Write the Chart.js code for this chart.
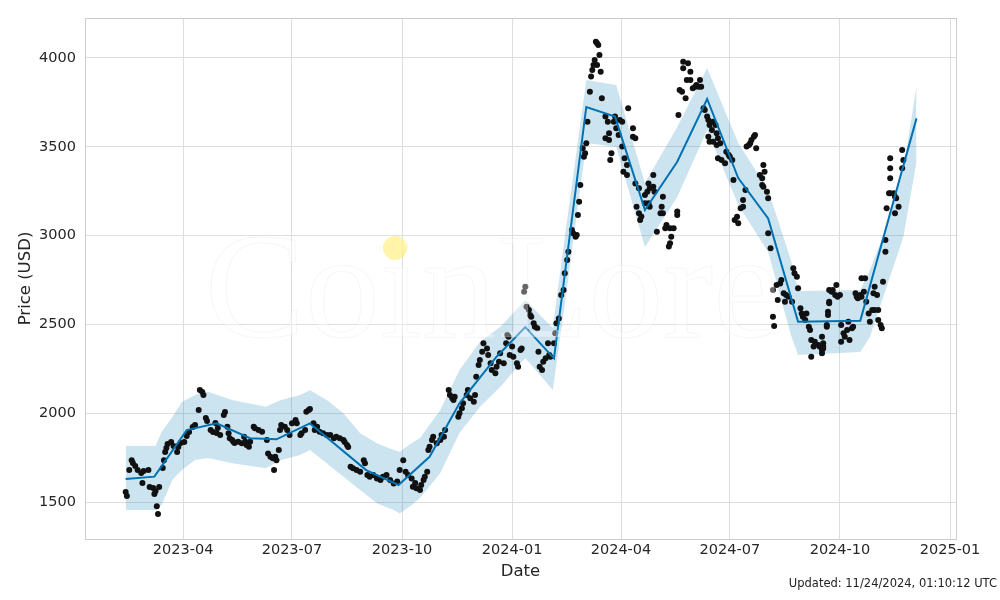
<!DOCTYPE html>
<html>
<head>
<meta charset="utf-8">
<script src="https://cdn.jsdelivr.net/npm/chart.js@4.4.1/dist/chart.umd.min.js"></script>
<style>
html,body{margin:0;padding:0;background:#fff;}
#wrap{width:1000px;height:600px;position:relative;}
canvas{display:block;}
</style>
</head>
<body>
<div id="wrap"><canvas id="c" width="1000" height="600"></canvas></div>
<script>
// ---- axis settings ----
const xRange = ['2023-01-09', '2025-01-06'];
const yRange = [1292, 4225];
const xTickLabels = ['2023-04','2023-07','2023-10','2024-01','2024-04','2024-07','2024-10','2025-01'];
const yTicks = [1500, 2000, 2500, 3000, 3500, 4000];

// ---- observed daily prices (black dots) ----
const priceDates = [
'2023-02-12','2023-02-13','2023-02-15','2023-02-17','2023-02-18','2023-02-20','2023-02-22','2023-02-25','2023-02-26','2023-02-27',
'2023-03-03','2023-03-04','2023-03-07','2023-03-08','2023-03-09','2023-03-10','2023-03-11','2023-03-12','2023-03-15','2023-03-16',
'2023-03-17','2023-03-18','2023-03-19','2023-03-22','2023-03-24','2023-03-27','2023-03-28','2023-03-30','2023-04-02','2023-04-04',
'2023-04-06','2023-04-09','2023-04-11','2023-04-14','2023-04-15','2023-04-17','2023-04-18','2023-04-20','2023-04-21','2023-04-24',
'2023-04-26','2023-04-29',
'2023-04-28','2023-04-30','2023-05-02','2023-05-05','2023-05-06','2023-05-08','2023-05-09','2023-05-10','2023-05-12','2023-05-13',
'2023-05-14','2023-05-17','2023-05-20','2023-05-22','2023-05-23','2023-05-24','2023-05-26','2023-05-27','2023-05-30','2023-05-31',
'2023-06-03','2023-06-06','2023-06-10','2023-06-11','2023-06-13','2023-06-15','2023-06-16','2023-06-17','2023-06-18','2023-06-20',
'2023-06-21','2023-06-22','2023-06-25','2023-06-27','2023-06-29','2023-07-01','2023-07-04','2023-07-05','2023-07-08','2023-07-09',
'2023-07-12','2023-07-13','2023-07-15',
'2023-07-16','2023-07-19','2023-07-20','2023-07-22','2023-07-24','2023-07-27','2023-07-30','2023-08-02','2023-08-05','2023-08-07',
'2023-08-10','2023-08-13','2023-08-14','2023-08-16','2023-08-17','2023-08-19','2023-08-21','2023-08-24','2023-08-27','2023-08-30',
'2023-08-31','2023-09-02','2023-09-04','2023-09-07','2023-09-10','2023-09-13','2023-09-15','2023-09-18','2023-09-21','2023-09-24',
'2023-09-27','2023-09-29','2023-10-02','2023-10-04','2023-10-06','2023-10-09','2023-10-10',
'2023-10-12','2023-10-13','2023-10-16','2023-10-17','2023-10-19','2023-10-20','2023-10-22','2023-10-23','2023-10-24','2023-10-26',
'2023-10-27','2023-10-30','2023-11-02','2023-11-03','2023-11-05','2023-11-06','2023-11-09','2023-11-10','2023-11-12','2023-11-13',
'2023-11-14','2023-11-17','2023-11-18','2023-11-20','2023-11-21','2023-11-24','2023-11-25','2023-11-27','2023-11-30','2023-12-01',
'2023-12-02','2023-12-04','2023-12-05','2023-12-07','2023-12-08','2023-12-11','2023-12-12','2023-12-14','2023-12-15','2023-12-18',
'2023-12-19','2023-12-21','2023-12-22','2023-12-25','2023-12-27','2023-12-28','2023-12-29','2023-12-30','2024-01-01',
'2024-01-02','2024-01-05','2024-01-06','2024-01-08','2024-01-09','2024-01-11','2024-01-12','2024-01-13','2024-01-15','2024-01-16',
'2024-01-17','2024-01-19','2024-01-20','2024-01-22','2024-01-23','2024-01-24','2024-01-26','2024-01-27','2024-01-29','2024-01-31',
'2024-02-01','2024-02-02','2024-02-05','2024-02-06','2024-02-07','2024-02-09','2024-02-11','2024-02-13','2024-02-14','2024-02-16',
'2024-02-17','2024-02-20','2024-02-21','2024-02-23','2024-02-24','2024-02-25','2024-02-26','2024-02-27','2024-02-29','2024-03-01',
'2024-03-02','2024-03-03','2024-03-04','2024-03-06','2024-03-07','2024-03-08','2024-03-09','2024-03-10','2024-03-11','2024-03-12',
'2024-03-13',
'2024-03-14','2024-03-12','2024-03-15','2024-03-16','2024-03-19','2024-03-21','2024-03-19','2024-03-22','2024-03-22','2024-03-24',
'2024-03-23','2024-03-26','2024-03-27','2024-03-28','2024-03-30','2024-03-31','2024-04-02','2024-04-02','2024-04-04','2024-04-06',
'2024-04-03','2024-04-06','2024-04-07','2024-04-11','2024-04-11','2024-04-13','2024-04-13','2024-04-16','2024-04-14','2024-04-16',
'2024-04-18','2024-04-17','2024-04-21','2024-04-23','2024-04-24','2024-04-25','2024-04-28','2024-04-28','2024-04-29','2024-04-21',
'2024-04-24','2024-04-25','2024-05-01','2024-05-04','2024-05-05','2024-05-06','2024-05-06','2024-05-08','2024-05-09','2024-05-12',
'2024-05-15','2024-05-13','2024-05-12','2024-05-11','2024-05-18','2024-05-18','2024-05-19','2024-05-20','2024-05-22','2024-05-25',
'2024-05-23','2024-05-23','2024-05-27','2024-05-29','2024-05-26','2024-05-29','2024-05-31','2024-06-02','2024-06-03','2024-06-05',
'2024-06-06','2024-06-07','2024-06-09','2024-06-10','2024-06-12','2024-06-13','2024-06-14','2024-06-16','2024-06-17','2024-06-19',
'2024-06-13','2024-06-14','2024-06-17','2024-06-20','2024-06-21',
'2024-06-20','2024-06-21','2024-06-23','2024-06-24','2024-06-27','2024-06-28','2024-06-30','2024-07-01','2024-07-03','2024-07-04',
'2024-07-07','2024-07-05','2024-07-08','2024-07-10','2024-07-12','2024-07-12','2024-07-14','2024-07-15','2024-07-17','2024-07-18',
'2024-07-19','2024-07-21','2024-07-22','2024-07-23','2024-07-26','2024-07-28','2024-07-29','2024-07-30','2024-07-28','2024-07-29',
'2024-08-01','2024-08-02','2024-08-02','2024-08-04','2024-08-06','2024-08-07','2024-08-06','2024-08-09','2024-08-12','2024-08-13',
'2024-08-15','2024-08-17','2024-08-10','2024-08-16','2024-08-19','2024-08-22','2024-08-23','2024-08-24','2024-08-26','2024-08-27',
'2024-08-29','2024-08-30','2024-08-31','2024-09-02','2024-09-03','2024-09-05','2024-09-06','2024-09-07','2024-09-10','2024-09-13',
'2024-09-14','2024-09-16','2024-09-17','2024-09-09','2024-09-07','2024-09-16','2024-09-20','2024-09-21','2024-09-22','2024-09-22',
'2024-09-16','2024-09-17','2024-09-17','2024-09-21','2024-09-22','2024-09-24','2024-09-25','2024-09-27','2024-09-28','2024-09-29',
'2024-10-01','2024-09-20','2024-10-02','2024-10-04','2024-10-05','2024-10-02','2024-10-07','2024-10-09','2024-10-11','2024-10-12',
'2024-10-08','2024-10-14','2024-10-15','2024-10-16','2024-10-18','2024-10-19','2024-10-21','2024-10-19','2024-10-22','2024-10-23',
'2024-10-25','2024-10-26','2024-10-28','2024-10-30','2024-11-02','2024-10-29','2024-10-30','2024-11-01','2024-11-02','2024-11-04',
'2024-11-05','2024-11-06','2024-11-08','2024-11-08','2024-11-09','2024-11-11','2024-11-12','2024-11-12','2024-11-12','2024-11-12',
'2024-11-15','2024-11-16','2024-11-17','2024-11-19','2024-11-16','2024-11-22','2024-11-23','2024-11-22'
];
const priceValues = [
1556,1534,1680,1736,1720,1703,1680,1663,1607,1675,
1680,1585,1579,1545,1562,1477,1433,1585,1691,1736,
1782,1804,1827,1838,1815,1782,1810,1832,1838,1872,
1894,1922,1934,2018,2131,2119,2103,1973,1956,1905,
1894,1889,
1945,1917,1877,1990,2007,1924,1887,1859,1849,1840,
1832,1840,1831,1868,1840,1821,1811,1840,1924,1915,
1905,1896,1849,1774,1755,1746,1680,1755,1736,1793,
1905,1934,1924,1905,1877,1943,1962,1943,1877,1887,
1905,2008,2018,
2024,1943,1905,1924,1896,1887,1877,1877,1859,1868,
1859,1849,1838,1821,1810,1699,1690,1680,1671,1736,
1718,1652,1643,1652,1633,1624,1643,1652,1624,1605,
1615,1680,1736,1671,1652,1633,1586,
1607,1577,1568,1596,1624,1643,1671,1793,1811,1849,
1868,1831,1849,1877,1868,1905,2131,2103,2084,2074,
2093,1980,2000,2028,2056,2103,2131,2084,2065,2103,
2206,2271,2300,2346,2394,2365,2328,2281,2243,2225,
2262,2290,2337,2281,2394,2440,2431,2328,2375,
2318,2281,2262,2356,2365,2684,2712,2600,2581,2553,
2543,2506,2487,2478,2346,2262,2243,2290,2309,2394,
2328,2318,2394,2450,2506,2534,2666,2694,2788,2863,
2909,3032,3013,2994,3003,3116,3191,3285,3492,3444,
3463,3520,3641,3810,3895,3932,3961,3989,4092,4083,
4073,
4017,3961,3923,3773,3670,3641,3548,3538,3576,3463,
3426,3641,3670,3604,3566,3651,3641,3501,3435,3398,
3360,3341,3717,3604,3557,3548,3294,3266,3163,3126,
3107,3088,3229,3247,3294,3266,3341,3275,3247,3182,
3182,3163,3022,3126,3163,3219,3126,3041,3060,3041,
3041,2994,2957,2938,3135,3116,3679,3820,3810,3773,
3942,3979,3970,3923,3876,3876,3829,3838,3848,3838,
3876,3838,3717,3707,3670,3651,3623,3595,3641,3623,
3557,3529,3529,3510,3435,
3576,3548,3520,3426,3407,3472,3454,3444,3426,3313,
3106,3088,3069,3154,3163,3200,3257,3501,3510,3520,
3538,3557,3566,3492,3341,3323,3398,3360,3285,3275,
3247,3210,3013,2929,2543,2491,2694,2722,2731,2750,
2675,2666,2637,2628,2656,2628,2816,2788,2769,2703,
2591,2562,2543,2525,2562,2487,2468,2412,2403,2384,
2375,2356,2375,2375,2318,2337,2497,2553,2619,2694,
2431,2394,2365,2572,2628,2684,2694,2666,2722,2656,
2666,2487,2497,2450,2431,2403,2469,2412,2478,2487,
2515,2675,2656,2647,2666,2656,2684,2760,2760,2628,
2562,2515,2581,2581,2581,2675,2712,2666,2525,2497,
2478,2740,2909,2975,3154,3238,3238,3323,3379,3435,
3238,3219,3210,3163,3126,3379,3426,3482
];

// ---- fitted / forecast line (blue) ----
const lineDates = ['2023-02-12','2023-03-08','2023-04-04','2023-04-29','2023-05-27','2023-06-18','2023-07-16','2023-09-01',
  '2023-09-28','2023-10-24','2023-11-18','2023-12-19','2024-01-12','2024-02-05','2024-03-03','2024-03-27','2024-04-21',
  '2024-05-18','2024-06-12','2024-07-08','2024-08-02','2024-08-27','2024-10-18','2024-12-04'];
const lineValues = [1630,1643,1905,1943,1859,1853,1943,1680,1596,1755,2056,2318,2485,2309,3724,3670,3144,3416,3769,3324,3097,2515,2521,3660];

// ---- uncertainty band ----
const bandDates = ['2023-02-12','2023-03-09','2023-03-14','2023-03-23','2023-03-31','2023-04-11','2023-04-22','2023-05-12',
  '2023-06-09','2023-06-22','2023-07-08','2023-07-16','2023-07-30','2023-08-13','2023-08-27','2023-09-10','2023-09-24',
  '2023-09-29','2023-10-08','2023-10-16','2023-11-02','2023-11-18','2023-12-05','2023-12-22','2024-01-12','2024-02-04',
  '2024-02-14','2024-03-03','2024-03-28','2024-04-21','2024-05-18','2024-06-12','2024-07-08','2024-08-02','2024-08-21',
  '2024-08-27','2024-10-18','2024-10-26','2024-11-09','2024-11-23','2024-12-04'];
const bandUpper = [1815,1815,1894,1979,2063,2103,2121,2074,2037,2074,2103,2131,2074,2000,1887,1831,1793,1783,1827,1860,
  2018,2243,2401,2485,2637,2480,2992,3876,3848,3296,3611,3944,3521,3257,2863,2688,2694,2806,3048,3369,3842];
const bandLower = [1455,1455,1483,1624,1680,1737,1748,1718,1690,1737,1765,1793,1718,1643,1568,1493,1455,1436,1478,1523,
  1663,1889,2035,2148,2311,2131,2609,3521,3499,2936,3217,3595,3172,2908,2440,2328,2345,2429,2711,2992,3414];

const updatedText = 'Updated: 11/24/2024, 01:10:12 UTC';
const watermarkText = 'CoinLore';

// ---- helpers ----
const toT = s => Date.parse(s + 'T00:00:00Z');
const pts = (dates, vals) => dates.map((d, i) => ({x: toT(d), y: vals[i]}));
const xTickValues = xTickLabels.map(l => toT(l + '-01'));

const FONT = '"DejaVu Sans", sans-serif';

const framePlugin = {
  id: 'frame',
  afterDatasetsDraw(chart) {
    const {ctx, chartArea: a} = chart;
    ctx.save();
    // watermark
    ctx.font = '150px "Liberation Serif", "DejaVu Serif", serif';
    ctx.textBaseline = 'alphabetic';
    ctx.textAlign = 'left';
    ctx.fillStyle = 'rgba(255,255,255,0.36)';
    ctx.fillText(watermarkText, 205, 337);
    ctx.strokeStyle = 'rgba(215,215,215,0.22)';
    ctx.lineWidth = 1;
    ctx.strokeText(watermarkText, 205, 337);
    // logo dot
    ctx.beginPath();
    ctx.arc(395, 248, 12, 0, Math.PI * 2);
    ctx.fillStyle = 'rgba(255,236,110,0.6)';
    ctx.fill();
    // frame
    ctx.strokeStyle = '#cccccc';
    ctx.lineWidth = 1;
    ctx.strokeRect(Math.round(a.left) + 0.5, Math.round(a.top) + 0.5, Math.round(a.right - a.left), Math.round(a.bottom - a.top));
    ctx.restore();
  },
  afterDraw(chart) {
    const {ctx} = chart;
    ctx.save();
    ctx.font = '11.5px ' + FONT;
    ctx.fillStyle = '#222222';
    ctx.textAlign = 'right';
    ctx.textBaseline = 'alphabetic';
    ctx.fillText(updatedText, 997, 587);
    ctx.restore();
  }
};

new Chart(document.getElementById('c'), {
  type: 'line',
  data: {
    datasets: [
      {label: 'upper', data: pts(bandDates, bandUpper), borderWidth: 0, borderColor: 'rgba(0,0,0,0)', pointRadius: 0,
       fill: '+1', backgroundColor: 'rgba(0,114,178,0.2)', order: 3, tension: 0},
      {label: 'lower', data: pts(bandDates, bandLower), borderWidth: 0, borderColor: 'rgba(0,0,0,0)', pointRadius: 0,
       fill: false, order: 3, tension: 0},
      {label: 'actual', data: pts(priceDates, priceValues), showLine: false, pointRadius: 3, pointBorderWidth: 0,
       pointBackgroundColor: '#111111', backgroundColor: '#111111', order: 2},
      {label: 'forecast', data: pts(lineDates, lineValues), borderColor: '#0072B2', borderWidth: 2, pointRadius: 0,
       fill: false, order: 1, tension: 0}
    ]
  },
  options: {
    responsive: false,
    devicePixelRatio: 1,
    animation: false,
    events: [],
    layout: {padding: {left: 0, top: 18, right: 44, bottom: 0}},
    plugins: {legend: {display: false}, tooltip: {enabled: false}},
    scales: {
      x: {
        type: 'linear',
        min: toT(xRange[0]),
        max: toT(xRange[1]),
        afterBuildTicks: s => { s.ticks = xTickValues.map(v => ({value: v})); },
        afterFit: s => { s.height = 61; },
        grid: {color: '#dedede', lineWidth: 1, drawTicks: false},
        border: {display: false},
        ticks: {
          autoSkip: false, maxRotation: 0, padding: 3,
          color: '#262626', font: {family: FONT, size: 14.5},
          callback: (v) => xTickLabels[xTickValues.indexOf(v)]
        },
        title: {display: true, text: 'Date', color: '#262626', font: {family: FONT, size: 16.5}, padding: {top: 0, bottom: 18}}
      },
      y: {
        type: 'linear',
        min: yRange[0],
        max: yRange[1],
        afterBuildTicks: s => { s.ticks = yTicks.map(v => ({value: v})); },
        afterFit: s => { s.width = 85; },
        grid: {color: '#dedede', lineWidth: 1, drawTicks: false},
        border: {display: false},
        ticks: {
          padding: 9, color: '#262626', font: {family: FONT, size: 14.5},
          callback: v => String(v)
        },
        title: {display: true, text: 'Price (USD)', color: '#262626', font: {family: FONT, size: 16.5}, padding: {top: 16, bottom: 0}}
      }
    }
  },
  plugins: [framePlugin]
});
</script>
</body>
</html>
